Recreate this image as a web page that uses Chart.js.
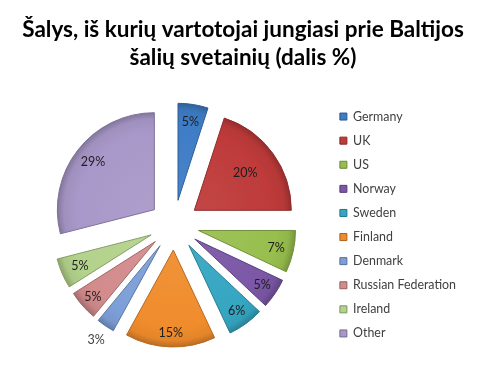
<!DOCTYPE html>
<html>
<head>
<meta charset="utf-8">
<script src="https://cdn.jsdelivr.net/npm/chart.js@4/dist/chart.umd.min.js"></script>
<style>
  html, body { margin: 0; padding: 0; background: #ffffff; }
  #wrap { width: 480px; height: 380px; }
</style>
</head>
<body>
<div id="wrap"><canvas id="c" width="480" height="380"></canvas></div>
<script>
// ---- data ----
const categories = ['Germany', 'UK', 'US', 'Norway', 'Sweden', 'Finland', 'Denmark', 'Russian Federation', 'Ireland', 'Other'];
const shares = [5, 20, 7, 5, 6, 15, 3, 5, 5, 29];
const titleLines = ['Šalys, iš kurių vartotojai jungiasi prie Baltijos', 'šalių svetainių (dalis %)'];

// ---- styles ----
const sliceColors = ['#3E7CC6', '#BE3B3A', '#98BE4E', '#7B57A6', '#35A6C2', '#F08C2C', '#7D9FD8', '#D38B8C', '#B3D28B', '#A898C9'];
const labelRadius = [0.82, 0.65, 0.82, 0.84, 0.84, 0.86, 1.17, 0.86, 0.8, 0.8];
const FONT = 'Lato';

function fitSize(text, weight, target) {
  const cx = document.createElement('canvas').getContext('2d');
  cx.font = weight + ' 100px ' + FONT;
  const w = cx.measureText(text).width;
  return 100 * target / w;
}
const titleSize = fitSize(titleLines[0], 'bold', 442);
const legendSize = fitSize('Russian Federation', 'normal', 103);
const labelSize = 12.5;

function shade(hex, f) {
  const n = parseInt(hex.slice(1), 16);
  let r = (n >> 16) & 255, g = (n >> 8) & 255, b = n & 255;
  if (f < 0) { r = r * (1 + f); g = g * (1 + f); b = b * (1 + f); }
  else { r = r + (255 - r) * f; g = g + (255 - g) * f; b = b + (255 - b) * f; }
  return 'rgb(' + Math.round(r) + ',' + Math.round(g) + ',' + Math.round(b) + ')';
}

const RADIUS = 97;
const EXPLODE = 25;

// draws each library arc shifted outward along its bisector (exploded pie)
const explodePlugin = {
  id: 'explode',
  beforeDatasetDraw(chart, args) {
    const ctx = chart.ctx;
    const meta = args.meta;
    meta.data.forEach((arc) => {
      const p = arc.getProps(['startAngle', 'endAngle'], true);
      const mid = (p.startAngle + p.endAngle) / 2;
      ctx.save();
      ctx.translate(Math.cos(mid) * EXPLODE, Math.sin(mid) * EXPLODE);
      arc.draw(ctx);
      ctx.restore();
    });
    return false;
  },
  afterDatasetsDraw(chart) {
    const ctx = chart.ctx;
    const meta = chart.getDatasetMeta(0);
    ctx.save();
    ctx.font = labelSize + 'px ' + FONT;
    ctx.textAlign = 'center';
    ctx.textBaseline = 'middle';
    meta.data.forEach((arc, i) => {
      const p = arc.getProps(['x', 'y', 'startAngle', 'endAngle', 'outerRadius'], true);
      const mid = (p.startAngle + p.endAngle) / 2;
      const d = EXPLODE + labelRadius[i] * p.outerRadius;
      const x = p.x + Math.cos(mid) * d;
      const y = p.y + Math.sin(mid) * d;
      ctx.fillStyle = labelRadius[i] > 1 ? '#404040' : '#1E1E1E';
      ctx.fillText(shares[i] + '%', x, y);
    });
    ctx.restore();
  }
};

new Chart(document.getElementById('c'), {
  type: 'pie',
  data: {
    labels: categories,
    datasets: [{
      data: shares,
      backgroundColor(context) {
        const chart = context.chart;
        const area = chart.chartArea;
        const base = sliceColors[context.dataIndex];
        if (!area) return base;
        const cx = (area.left + area.right) / 2;
        const cy = (area.top + area.bottom) / 2;
        const g = chart.ctx.createRadialGradient(cx, cy, 0, cx, cy, RADIUS);
        g.addColorStop(0, shade(base, 0.06));
        g.addColorStop(0.8, base);
        g.addColorStop(0.93, shade(base, -0.05));
        g.addColorStop(1, shade(base, -0.22));
        return g;
      },
      borderColor: sliceColors.map(c => shade(c, -0.25)),
      borderWidth: 1,
      offset: 0,
      hoverOffset: 0
    }]
  },
  options: {
    responsive: false,
    animation: false,
    radius: RADIUS,
    events: [],
    layout: { padding: { left: 20, right: 14, top: 0, bottom: 10 } },
    plugins: {
      title: {
        display: true,
        text: titleLines,
        color: '#000000',
        font: { family: FONT, size: titleSize, weight: 'bold', lineHeight: '28px' },
        padding: { top: 16, bottom: 8 }
      },
      legend: {
        position: 'right',
        align: 'center',
        fullSize: false,
        labels: {
          color: '#404040',
          font: { family: FONT, size: legendSize },
          boxWidth: 7,
          boxHeight: 7,
          padding: 24.1 - legendSize,
          generateLabels(chart) {
            return categories.map((name, i) => ({
              text: name,
              fillStyle: sliceColors[i],
              strokeStyle: shade(sliceColors[i], -0.3),
              lineWidth: 1,
              fontColor: '#404040',
              hidden: false,
              index: i
            }));
          }
        }
      },
      tooltip: { enabled: false }
    }
  },
  plugins: [explodePlugin]
});
</script>
</body>
</html>
